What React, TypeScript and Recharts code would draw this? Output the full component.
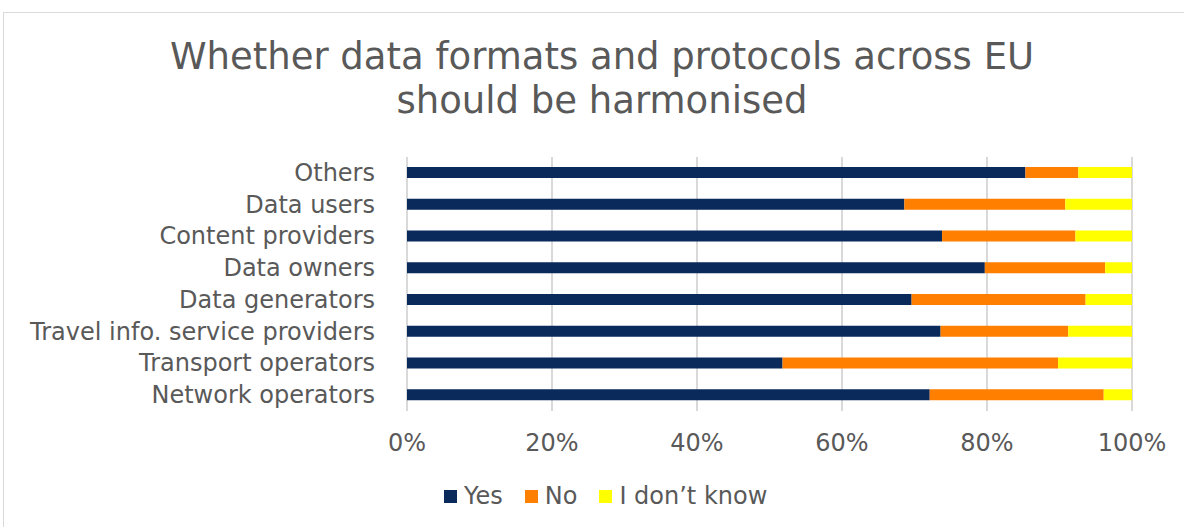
import React from "react";
import { BarChart, Bar, XAxis, YAxis, CartesianGrid } from "recharts";

// Values (percent of respondents per group)
const categories = [
  "Others",
  "Data users",
  "Content providers",
  "Data owners",
  "Data generators",
  "Travel info. service providers",
  "Transport operators",
  "Network operators",
];
const yesValues = [85.3, 68.6, 73.8, 79.7, 69.6, 73.6, 51.8, 72.1];
const noValues = [7.3, 22.2, 18.4, 16.6, 24.0, 17.6, 38.0, 24.0];
const dontKnowValues = [7.4, 9.2, 7.8, 3.7, 6.4, 8.8, 10.2, 3.9];
const xTicks = [0, 20, 40, 60, 80, 100];

const COLORS = {
  yes: "#0B2A5C",
  no: "#FF7F00",
  dontKnow: "#FFFF00",
  text: "#595959",
  grid: "#D9D9D9",
};

const FONT = "'DejaVu Sans', Verdana, sans-serif";

const data = categories.map((name, i) => ({
  name,
  yes: yesValues[i],
  no: noValues[i],
  dontKnow: dontKnowValues[i],
}));

function YTick({ x, y, payload }: any) {
  return (
    <text x={x - 24} y={y} textAnchor="end" dominantBaseline="central" fontSize={24} fill={COLORS.text} fontFamily={FONT}>
      {payload.value}
    </text>
  );
}

function XTick({ x, y, payload }: any) {
  return (
    <text x={x} y={y + 23.5} textAnchor="middle" dominantBaseline="central" fontSize={24} fill={COLORS.text} fontFamily={FONT}>
      {payload.value}%
    </text>
  );
}

// legend drawn as plain html below the plot
function ChartLegend() {
  const items = [
    { label: "Yes", color: COLORS.yes, gap: 22 },
    { label: "No", color: COLORS.no, gap: 22 },
    { label: "I don\u2019t know", color: COLORS.dontKnow, gap: 0 },
  ];
  return (
    <div
      style={{
        position: "absolute",
        left: 444,
        top: 481,
        display: "flex",
        alignItems: "center",
        fontSize: 24,
        lineHeight: "30px",
        color: COLORS.text,
      }}
    >
      {items.map((it) => (
        <div key={it.label} style={{ display: "flex", alignItems: "center", marginRight: it.gap }}>
          <span style={{ width: 13, height: 13, background: it.color, display: "inline-block", marginRight: 7 }} />
          <span>{it.label}</span>
        </div>
      ))}
    </div>
  );
}

export default function App() {
  return (
    <div
      style={{
        position: "absolute",
        left: 0,
        top: 0,
        width: 1184,
        height: 527,
        overflow: "hidden",
        background: "#fff",
        fontFamily: FONT,
      }}
    >
      <div
        style={{
          position: "absolute",
          left: 3,
          top: 12,
          width: 1300,
          height: 700,
          border: `1px solid ${COLORS.grid}`,
        }}
      />
      <div
        style={{
          position: "absolute",
          left: 0,
          top: 35,
          width: 1204,
          textAlign: "center",
          fontSize: 37,
          lineHeight: "44px",
          color: COLORS.text,
        }}
      >
        Whether data formats and protocols across EU
        <br />
        should be harmonised
      </div>
      <div style={{ position: "absolute", left: 0, top: 0 }}>
        <BarChart
          width={1184}
          height={527}
          data={data}
          layout="vertical"
          barSize={11}
          margin={{ top: 157, right: 52, bottom: 76, left: 0 }}
        >
          <CartesianGrid horizontal={false} stroke={COLORS.grid} strokeWidth={2} />
          <XAxis
            type="number"
            domain={[0, 100]}
            ticks={xTicks}
            axisLine={false}
            tickLine={false}
            tick={<XTick />}
            interval={0}
            height={40}
          />
          <YAxis
            type="category"
            dataKey="name"
            width={407}
            axisLine={false}
            tickLine={false}
            tick={<YTick />}
            interval={0}
          />
          <Bar dataKey="yes" name="Yes" stackId="a" fill={COLORS.yes} isAnimationActive={false} />
          <Bar dataKey="no" name="No" stackId="a" fill={COLORS.no} isAnimationActive={false} />
          <Bar dataKey="dontKnow" name="I don't know" stackId="a" fill={COLORS.dontKnow} isAnimationActive={false} />
        </BarChart>
      </div>
      <ChartLegend />
    </div>
  );
}
